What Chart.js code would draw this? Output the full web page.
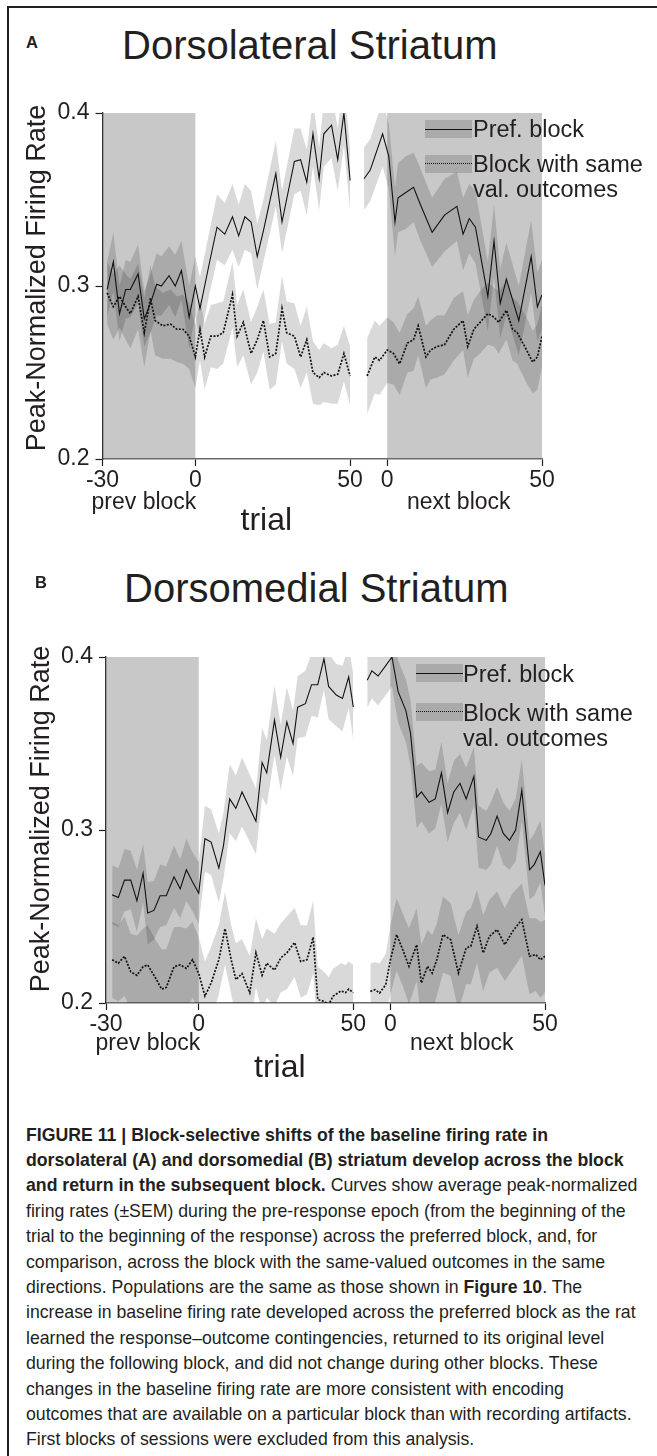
<!DOCTYPE html>
<html>
<head>
<meta charset="utf-8">
<script src="https://cdn.jsdelivr.net/npm/chart.js@4/dist/chart.umd.min.js"></script>
<style>
html,body{margin:0;padding:0;background:#fff;}
#page{position:relative;width:657px;height:1456px;overflow:hidden;background:#fff;font-family:'Liberation Sans',Arial,Helvetica,sans-serif;color:#231f20;}
.abs{position:absolute;white-space:nowrap;}
.frameL{position:absolute;left:7px;top:6px;width:1.5px;height:1450px;background:#231f20;}
.frameT{position:absolute;left:7px;top:6px;width:650px;height:1.5px;background:#231f20;}
.letter{font-weight:bold;font-size:16.5px;line-height:16px;}
.ptitle{font-size:40px;line-height:40px;}
.ytitle{font-size:27px;line-height:30px;width:400px;height:30px;text-align:center;transform:rotate(-90deg);transform-origin:50% 50%;}
.blk{font-size:23px;line-height:23px;}
.trial{font-size:32px;line-height:32px;}
.leg{font-size:23.5px;line-height:25px;}
.lbox{position:absolute;width:47px;height:18px;background:rgba(0,0,0,0.15);}
.lbox .solid{position:absolute;left:0;right:0;top:8.5px;border-top:1.3px solid #111;}
.lbox .dot{position:absolute;left:0;right:0;top:8px;border-top:1.8px dotted #111;}
.cap{position:absolute;left:26px;top:1122.5px;font-size:17.7px;line-height:25.4px;white-space:nowrap;}
canvas{position:absolute;left:0;}
</style>
</head>
<body>
<div id="page">
  <div class="frameL"></div><div class="frameT"></div>

  <div class="abs letter" style="left:26px;top:33.5px">A</div>
  <div class="abs ptitle" style="left:122px;top:25px">Dorsolateral Striatum</div>
  <canvas id="chartA" width="657" height="420" style="top:90px"></canvas>
  <div class="abs ytitle" style="left:-164px;top:262.5px">Peak-Normalized Firing Rate</div>
  <div class="lbox" style="left:425px;top:120px"><div class="solid"></div></div>
  <div class="abs leg" style="left:473px;top:117px">Pref. block</div>
  <div class="lbox" style="left:425px;top:155px"><div class="dot"></div></div>
  <div class="abs leg" style="left:473px;top:152.3px">Block with same<br>val. outcomes</div>
  <div class="abs blk" style="left:91.5px;top:489.5px">prev block</div>
  <div class="abs blk" style="left:407px;top:489.5px">next block</div>
  <div class="abs trial" style="left:240.5px;top:503px">trial</div>

  <div class="abs letter" style="left:35px;top:573.5px">B</div>
  <div class="abs ptitle" style="left:124px;top:568px">Dorsomedial Striatum</div>
  <canvas id="chartB" width="657" height="420" style="top:634px"></canvas>
  <div class="abs ytitle" style="left:-160.5px;top:804px">Peak-Normalized Firing Rate</div>
  <div class="lbox" style="left:416px;top:664px"><div class="solid"></div></div>
  <div class="abs leg" style="left:463px;top:662.3px">Pref. block</div>
  <div class="lbox" style="left:416px;top:703px"><div class="dot"></div></div>
  <div class="abs leg" style="left:463px;top:701.3px">Block with same<br>val. outcomes</div>
  <div class="abs blk" style="left:95.5px;top:1030.5px">prev block</div>
  <div class="abs blk" style="left:410px;top:1030.5px">next block</div>
  <div class="abs trial" style="left:254px;top:1050px">trial</div>

  <div class="cap">
    <div><b>FIGURE 11 | Block-selective shifts of the baseline firing rate in</b></div>
    <div><b>dorsolateral (A) and dorsomedial (B) striatum develop across the block</b></div>
    <div><b>and return in the subsequent block.</b> Curves show average peak-normalized</div>
    <div>firing rates (±SEM) during the pre-response epoch (from the beginning of the</div>
    <div>trial to the beginning of the response) across the preferred block, and, for</div>
    <div>comparison, across the block with the same-valued outcomes in the same</div>
    <div>directions. Populations are the same as those shown in <b>Figure 10</b>. The</div>
    <div>increase in baseline firing rate developed across the preferred block as the rat</div>
    <div>learned the response–outcome contingencies, returned to its original level</div>
    <div>during the following block, and did not change during other blocks. These</div>
    <div>changes in the baseline firing rate are more consistent with encoding</div>
    <div>outcomes that are available on a particular block than with recording artifacts.</div>
    <div>First blocks of sessions were excluded from this analysis.</div>
  </div>
</div>

<script>
// ---------- axis definitions ----------
const trialTicks = [-30, 0, 50, 62, 112];
const trialTickLabels = ['-30', '0', '50', '0', '50'];
const rateTicks = [0.2, 0.3, 0.4];
const shadedBlocks = [[-30, 0], [62, 112]];

// ---------- Panel A: dorsolateral striatum ----------
const dlPrefX1 = [-28.5, -26.5, -24.5, -22.5, -21, -18.5, -16.5, -14.5, -12.5, -11, -8.5, -6.5, -4.5, -2, 0, 1.5, 4.5, 7, 9.5, 12, 14, 16, 18, 20, 22, 26, 28, 32, 34, 36, 38, 40, 41.5, 44, 46, 48, 50];
const dlPrefMean1 = [0.298, 0.314, 0.284, 0.298, 0.298, 0.307, 0.281, 0.290, 0.301, 0.300, 0.306, 0.300, 0.309, 0.282, 0.300, 0.287, 0.313, 0.334, 0.330, 0.340, 0.329, 0.340, 0.337, 0.317, 0.332, 0.365, 0.337, 0.372, 0.373, 0.360, 0.388, 0.362, 0.388, 0.393, 0.373, 0.400, 0.361];
const dlPrefSem1 = [0.016, 0.017, 0.016, 0.017, 0.016, 0.017, 0.016, 0.017, 0.018, 0.017, 0.017, 0.018, 0.017, 0.018, 0.017, 0.018, 0.018, 0.019, 0.018, 0.019, 0.018, 0.019, 0.018, 0.019, 0.018, 0.019, 0.018, 0.019, 0.018, 0.019, 0.019, 0.018, 0.019, 0.019, 0.018, 0.019, 0.018];
const dlPrefX2 = [54.5, 56.5, 60.5, 62.5, 64.5, 65.5, 68, 70.5, 72.5, 76.5, 80.5, 84.5, 86.5, 88.5, 90.5, 94.5, 96.5, 98.5, 100.5, 104.5, 108.5, 110.5, 112];
const dlPrefMean2 = [0.362, 0.367, 0.388, 0.375, 0.337, 0.351, 0.354, 0.357, 0.348, 0.331, 0.341, 0.346, 0.330, 0.339, 0.334, 0.294, 0.326, 0.290, 0.304, 0.280, 0.317, 0.288, 0.295];
const dlPrefSem2 = [0.018, 0.018, 0.019, 0.019, 0.020, 0.020, 0.021, 0.020, 0.021, 0.020, 0.021, 0.020, 0.021, 0.020, 0.021, 0.020, 0.021, 0.020, 0.021, 0.020, 0.021, 0.020, 0.020];
const dlSameX1 = [-28.5, -26.5, -24.5, -22.5, -21, -18.5, -16.5, -14.5, -13, -10.5, -8, -6, -4, -2, 0, 1.5, 3, 5, 7, 9, 12, 13.5, 15.5, 18, 20, 22, 24, 26, 28, 29.5, 32, 34, 36, 38, 40, 41.5, 44, 46, 48, 50];
const dlSameMean1 = [0.296, 0.288, 0.294, 0.288, 0.284, 0.294, 0.273, 0.293, 0.280, 0.277, 0.278, 0.275, 0.275, 0.271, 0.259, 0.275, 0.259, 0.271, 0.271, 0.273, 0.295, 0.271, 0.279, 0.261, 0.269, 0.280, 0.259, 0.261, 0.287, 0.273, 0.271, 0.259, 0.269, 0.250, 0.247, 0.250, 0.248, 0.249, 0.261, 0.248];
const dlSameSem1 = [0.018, 0.019, 0.018, 0.019, 0.020, 0.019, 0.020, 0.019, 0.020, 0.019, 0.020, 0.019, 0.020, 0.019, 0.018, 0.018, 0.019, 0.018, 0.019, 0.018, 0.019, 0.018, 0.019, 0.018, 0.019, 0.018, 0.019, 0.018, 0.019, 0.018, 0.019, 0.018, 0.019, 0.018, 0.016, 0.017, 0.016, 0.017, 0.016, 0.017];
const dlSameX2 = [55.5, 58, 59.5, 62, 64, 66, 68.5, 70.5, 72, 74.5, 76, 78, 80.5, 83.5, 86.5, 88, 90, 92, 94.5, 96.5, 98, 100.5, 102.5, 104, 107, 109, 110.5, 112];
const dlSameMean2 = [0.248, 0.259, 0.257, 0.263, 0.261, 0.255, 0.267, 0.269, 0.277, 0.259, 0.263, 0.265, 0.266, 0.275, 0.280, 0.265, 0.275, 0.279, 0.284, 0.282, 0.279, 0.286, 0.275, 0.273, 0.263, 0.256, 0.259, 0.271];
const dlSameSem2 = [0.022, 0.021, 0.020, 0.019, 0.018, 0.018, 0.017, 0.018, 0.017, 0.018, 0.017, 0.018, 0.017, 0.018, 0.017, 0.018, 0.017, 0.018, 0.018, 0.017, 0.018, 0.017, 0.018, 0.018, 0.019, 0.018, 0.019, 0.018];

// ---------- Panel B: dorsomedial striatum ----------
const dmPrefX1 = [-28, -26, -24, -22, -20, -18, -16.5, -14.5, -12.5, -10.5, -8, -6, -4, -2, 0, 2, 4, 6.5, 8, 10, 12, 14, 18.5, 20.5, 22, 24.5, 26.5, 28.5, 30.5, 32, 34.5, 36.5, 38.5, 40.5, 42, 44.5, 46.5, 48.5, 50];
const dmPrefMean1 = [0.2625, 0.261, 0.271, 0.271, 0.259, 0.275, 0.252, 0.2535, 0.262, 0.262, 0.273, 0.266, 0.277, 0.270, 0.2635, 0.295, 0.293, 0.278, 0.291, 0.318, 0.3125, 0.322, 0.305, 0.339, 0.333, 0.3635, 0.342, 0.3625, 0.350, 0.371, 0.373, 0.384, 0.384, 0.399, 0.383, 0.378, 0.376, 0.3885, 0.371];
const dmPrefSem1 = [0.017, 0.017, 0.018, 0.017, 0.018, 0.017, 0.018, 0.017, 0.018, 0.017, 0.018, 0.017, 0.018, 0.017, 0.018, 0.019, 0.019, 0.020, 0.019, 0.020, 0.019, 0.020, 0.019, 0.020, 0.019, 0.020, 0.019, 0.020, 0.019, 0.018, 0.019, 0.018, 0.019, 0.018, 0.019, 0.018, 0.019, 0.018, 0.019];
const dmPrefX2 = [54.5, 56, 58, 60.5, 62.5, 64.5, 67, 68.5, 70.5, 72, 74.5, 76.5, 78.5, 80.5, 82.5, 84.5, 86.5, 89, 90.5, 93, 94.5, 96.5, 98.5, 100.5, 102.5, 104.5, 107, 108.5, 110.5, 112];
const dmPrefMean2 = [0.3865, 0.392, 0.389, 0.395, 0.400, 0.380, 0.369, 0.356, 0.319, 0.322, 0.316, 0.318, 0.333, 0.310, 0.322, 0.327, 0.318, 0.331, 0.296, 0.294, 0.298, 0.308, 0.298, 0.294, 0.300, 0.323, 0.277, 0.280, 0.2875, 0.268];
const dmPrefSem2 = [0.016, 0.016, 0.017, 0.017, 0.017, 0.018, 0.018, 0.019, 0.018, 0.017, 0.018, 0.017, 0.018, 0.017, 0.018, 0.017, 0.018, 0.017, 0.018, 0.017, 0.018, 0.017, 0.018, 0.017, 0.018, 0.018, 0.017, 0.018, 0.018, 0.018];
const dmSameX1 = [-28, -26, -24, -22, -20, -18, -16.5, -14, -12, -10.5, -8, -6, -4, -2, 0, 2, 4, 6.5, 8.5, 10.5, 12, 14, 16.5, 18.5, 20.5, 22, 24.5, 26.5, 28.5, 31, 33, 35, 37, 38.5, 40.5, 42, 43.5, 46, 47.5, 48.5, 50];
const dmSameMean1 = [0.225, 0.223, 0.227, 0.218, 0.216, 0.221, 0.222, 0.2145, 0.208, 0.209, 0.221, 0.222, 0.220, 0.225, 0.217, 0.204, 0.2115, 0.225, 0.243, 0.225, 0.2135, 0.217, 0.206, 0.229, 0.216, 0.223, 0.219, 0.226, 0.229, 0.235, 0.224, 0.225, 0.238, 0.202, 0.201, 0.199, 0.204, 0.207, 0.206, 0.208, 0.206];
const dmSameSem1 = [0.022, 0.022, 0.023, 0.022, 0.023, 0.022, 0.023, 0.022, 0.023, 0.022, 0.023, 0.022, 0.023, 0.022, 0.021, 0.020, 0.021, 0.020, 0.021, 0.020, 0.021, 0.020, 0.021, 0.020, 0.021, 0.020, 0.021, 0.020, 0.021, 0.020, 0.021, 0.020, 0.021, 0.019, 0.017, 0.016, 0.016, 0.016, 0.016, 0.016, 0.016];
const dmSameX2 = [55.5, 57, 58.5, 60.5, 62, 64, 66, 68, 70.5, 72, 74, 75.5, 77, 79, 81.5, 84, 86.5, 88, 90, 92, 94, 96.5, 99, 101.5, 104.5, 107, 109, 110.5, 112];
const dmSameMean2 = [0.2067, 0.2077, 0.2058, 0.2106, 0.225, 0.2395, 0.2308, 0.2212, 0.2337, 0.2116, 0.2212, 0.2173, 0.225, 0.2395, 0.2366, 0.2173, 0.2318, 0.2328, 0.2443, 0.2289, 0.2385, 0.2424, 0.2337, 0.2414, 0.2482, 0.227, 0.228, 0.225, 0.227];
const dmSameSem2 = [0.016, 0.016, 0.017, 0.018, 0.020, 0.021, 0.021, 0.022, 0.021, 0.022, 0.021, 0.022, 0.021, 0.022, 0.021, 0.022, 0.021, 0.022, 0.021, 0.022, 0.021, 0.022, 0.021, 0.022, 0.021, 0.022, 0.021, 0.022, 0.021];

// ---------- rendering ----------
const FONT = "'Liberation Sans', Arial, Helvetica, sans-serif";
const TEXT = '#231f20';
const BAND = 'rgba(0,0,0,0.15)';
const SHADE = '#c8c8c8';

function seriesDatasets(xs, mean, sem, dotted) {
  const upper = xs.map((t, i) => ({x: t, y: mean[i] + sem[i]}));
  const lower = xs.map((t, i) => ({x: t, y: mean[i] - sem[i]}));
  const mid = xs.map((t, i) => ({x: t, y: mean[i]}));
  return [
    {data: upper, borderWidth: 0, borderColor: 'rgba(0,0,0,0)', backgroundColor: BAND, fill: '+1', pointRadius: 0, order: 2, clip: 0},
    {data: lower, borderWidth: 0, borderColor: 'rgba(0,0,0,0)', backgroundColor: 'rgba(0,0,0,0)', fill: false, pointRadius: 0, order: 2, clip: 0},
    {data: mid, borderWidth: dotted ? 1.7 : 1.1, borderColor: '#111', borderDash: dotted ? [2, 1.5] : [], fill: false, pointRadius: 0, order: 1, clip: 0}
  ];
}

const blockShade = {
  id: 'blockShade',
  beforeDraw(chart) {
    const {ctx, chartArea, scales} = chart;
    ctx.save();
    ctx.fillStyle = SHADE;
    shadedBlocks.forEach(([a, b]) => {
      const x0 = scales.x.getPixelForValue(a);
      const x1 = scales.x.getPixelForValue(b);
      ctx.fillRect(x0, chartArea.top, x1 - x0, chartArea.bottom - chartArea.top);
    });
    ctx.restore();
  }
};

function makeChart(id, datasets, yWidth, padRight) {
  return new Chart(document.getElementById(id), {
    type: 'line',
    data: {datasets},
    plugins: [blockShade],
    options: {
      responsive: false,
      animation: false,
      devicePixelRatio: 1,
      layout: {padding: {top: 23, right: padRight, left: 0, bottom: 0}},
      plugins: {legend: {display: false}, tooltip: {enabled: false}},
      elements: {point: {radius: 0}, line: {tension: 0}},
      scales: {
        x: {
          type: 'linear', min: -30, max: 112,
          afterBuildTicks: s => { s.ticks = trialTicks.map(v => ({value: v})); },
          afterFit: s => { s.height = 51; },
          ticks: {callback: (v, i) => trialTickLabels[i], autoSkip: false, maxRotation: 0, padding: 1,
                  color: TEXT, font: {family: FONT, size: 23}},
          grid: {drawOnChartArea: false, drawTicks: true, tickLength: 7, tickColor: TEXT, tickWidth: 1.2},
          border: {display: true, color: '#6a6a6a', width: 1.4}
        },
        y: {
          min: 0.2, max: 0.4,
          afterBuildTicks: s => { s.ticks = rateTicks.map(v => ({value: v})); },
          afterFit: s => { s.width = yWidth; },
          ticks: {callback: v => v.toFixed(1), padding: 6, color: TEXT, font: {family: FONT, size: 23}},
          grid: {drawOnChartArea: false, drawTicks: true, tickLength: 7, tickColor: TEXT, tickWidth: 1.2},
          border: {display: true, color: '#333', width: 1.3}
        }
      }
    }
  });
}

const dsA = [].concat(
  seriesDatasets(dlPrefX1, dlPrefMean1, dlPrefSem1, false),
  seriesDatasets(dlPrefX2, dlPrefMean2, dlPrefSem2, false),
  seriesDatasets(dlSameX1, dlSameMean1, dlSameSem1, true),
  seriesDatasets(dlSameX2, dlSameMean2, dlSameSem2, true)
);
const dsB = [].concat(
  seriesDatasets(dmPrefX1, dmPrefMean1, dmPrefSem1, false),
  seriesDatasets(dmPrefX2, dmPrefMean2, dmPrefSem2, false),
  seriesDatasets(dmSameX1, dmSameMean1, dmSameSem1, true),
  seriesDatasets(dmSameX2, dmSameMean2, dmSameSem2, true)
);

makeChart('chartA', dsA, 102.5, 115);
makeChart('chartB', dsB, 106, 112);
</script>
</body>
</html>
